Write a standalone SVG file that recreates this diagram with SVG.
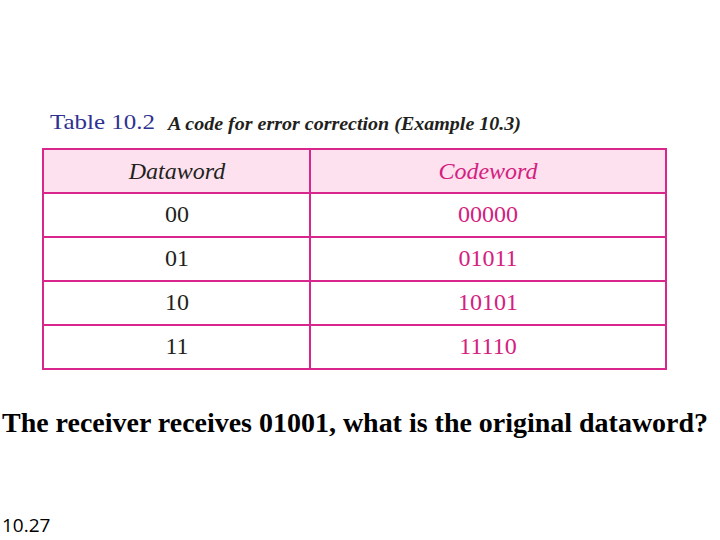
<svg xmlns="http://www.w3.org/2000/svg" width="720" height="540" viewBox="0 0 720 540">
<style>
.c{font-family:"Liberation Serif",serif;font-size:24px;text-anchor:middle}
.d{fill:#231f20}
.m{fill:#d4207f}
line{stroke:#d9268c;stroke-width:2}
</style>
<rect width="720" height="540" fill="#fff"/>
<text x="50" y="129" font-family="Liberation Serif,serif" font-size="21" fill="#2e3192" textLength="105" lengthAdjust="spacingAndGlyphs">Table 10.2</text>
<text x="168" y="130" font-family="Liberation Serif,serif" font-size="18" font-weight="bold" font-style="italic" fill="#231f20" textLength="353" lengthAdjust="spacingAndGlyphs">A code for error correction (Example 10.3)</text>
<g id="table">
<rect x="43" y="149" width="623" height="44" fill="#fde1ef"/>
<rect x="43" y="149" width="623" height="220" fill="none" stroke="#d9268c" stroke-width="2"/>
<line x1="310" y1="149" x2="310" y2="369"/>
<line x1="43" y1="193" x2="666" y2="193"/>
<line x1="43" y1="237" x2="666" y2="237"/>
<line x1="43" y1="281" x2="666" y2="281"/>
<line x1="43" y1="325" x2="666" y2="325"/>
<text class="c d" x="177" y="179" font-style="italic">Dataword</text>
<text class="c m" x="488" y="179" font-style="italic">Codeword</text>
<text class="c d" x="177" y="222">00</text><text class="c m" x="488" y="222">00000</text>
<text class="c d" x="177" y="266">01</text><text class="c m" x="488" y="266">01011</text>
<text class="c d" x="177" y="310">10</text><text class="c m" x="488" y="310">10101</text>
<text class="c d" x="177" y="354">11</text><text class="c m" x="488" y="354">11110</text>
</g>
<text x="2" y="432" font-family="Liberation Serif,serif" font-size="28" font-weight="bold" fill="#000" textLength="706" lengthAdjust="spacingAndGlyphs">The receiver receives 01001, what is the original dataword?</text>
<text x="2" y="532" font-family="Open Sans,sans-serif" font-size="19" fill="#000">10.27</text>
</svg>
